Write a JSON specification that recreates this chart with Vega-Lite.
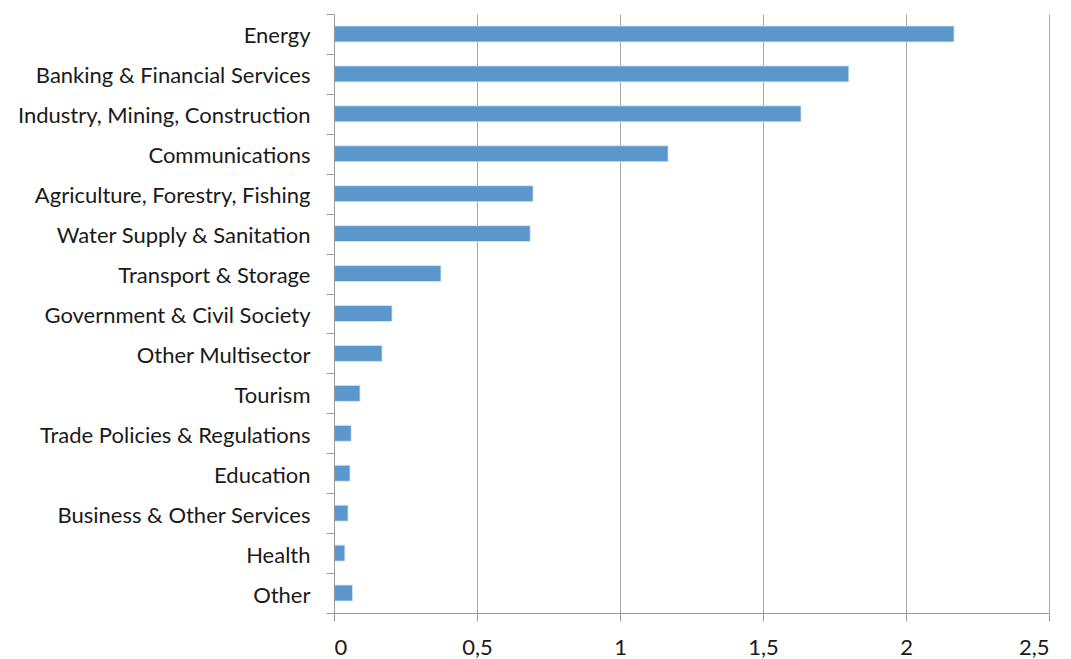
{
  "$schema": "https://vega.github.io/schema/vega-lite/v6.json",
  "autosize": "none",
  "padding": {"left": 334, "top": 14, "right": 22, "bottom": 46},
  "width": 715,
  "height": 599,
  "background": "white",
  "data": {"values": [
    {"sector": "Energy", "value": 2.168},
    {"sector": "Banking & Financial Services", "value": 1.80},
    {"sector": "Industry, Mining, Construction", "value": 1.633},
    {"sector": "Communications", "value": 1.168},
    {"sector": "Agriculture, Forestry, Fishing", "value": 0.696},
    {"sector": "Water Supply & Sanitation", "value": 0.686},
    {"sector": "Transport & Storage", "value": 0.374},
    {"sector": "Government & Civil Society", "value": 0.203},
    {"sector": "Other Multisector", "value": 0.168},
    {"sector": "Tourism", "value": 0.091},
    {"sector": "Trade Policies & Regulations", "value": 0.060},
    {"sector": "Education", "value": 0.056},
    {"sector": "Business & Other Services", "value": 0.049},
    {"sector": "Health", "value": 0.038},
    {"sector": "Other", "value": 0.065}
  ]},
  "mark": {"type": "bar", "color": "#5b97cc", "stroke": "#dbe8f5", "strokeWidth": 0.8, "height": {"band": 0.4}},
  "encoding": {
    "y": {
      "field": "sector", "type": "nominal", "sort": null, "title": null,
      "scale": {"paddingInner": 0, "paddingOuter": 0},
      "axis": {
        "tickBand": "extent", "ticks": true, "tickSize": 8, "tickColor": "#9a9a9a",
        "domainColor": "#9a9a9a", "labelPadding": 16, "labelLimit": 400, "labelOffset": 2,
        "labelFont": "Lato", "labelFontSize": 22, "labelColor": "#1a1a1a", "grid": false, "zindex": 1
      }
    },
    "x": {
      "field": "value", "type": "quantitative", "title": null,
      "scale": {"domain": [0, 2.5], "nice": false},
      "axis": {
        "values": [0, 0.5, 1, 1.5, 2, 2.5],
        "labelExpr": "replace(toString(datum.value), '.', ',')",
        "tickSize": 8, "tickColor": "#9a9a9a", "domainColor": "#9a9a9a",
        "grid": true, "gridColor": "#a6a6a6", "labelPadding": 16,
        "labelFont": "Lato", "labelFontSize": 22, "labelColor": "#1a1a1a"
      }
    }
  },
  "config": {"view": {"stroke": null}}
}
